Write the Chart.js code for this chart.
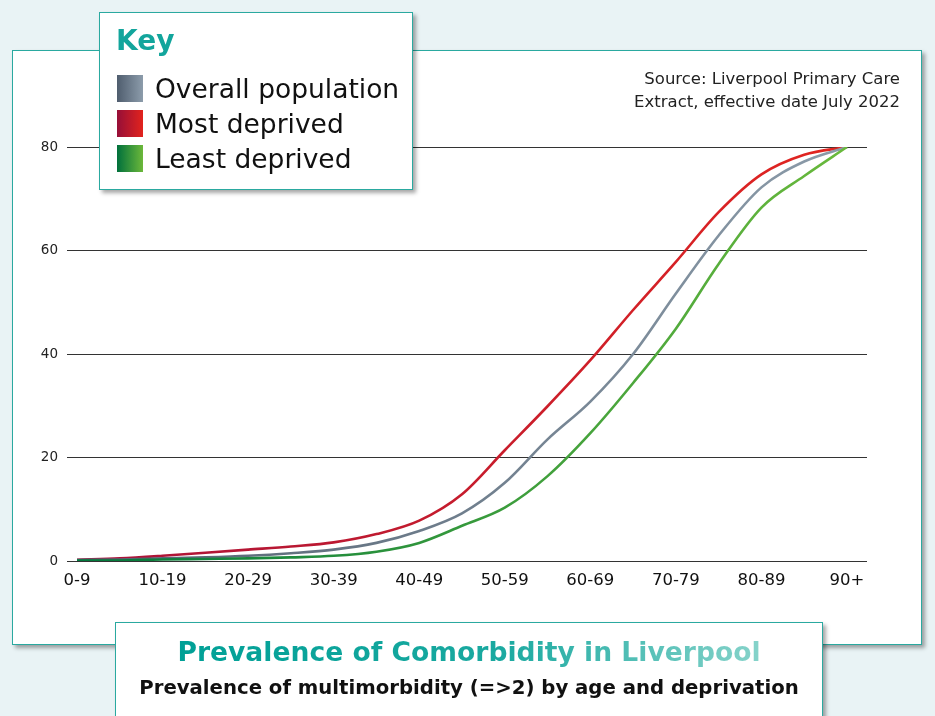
<!DOCTYPE html>
<html lang="en">
<head>
  <meta charset="UTF-8">
  <title>Prevalence of Comorbidity in Liverpool</title>
  <style>
    html, body { margin: 0; padding: 0; }
    body {
      width: 935px; height: 716px; overflow: hidden; position: relative;
      background: #e9f3f5;
      font-family: "DejaVu Sans", sans-serif;
    }
    #panel {
      position: absolute; left: 12px; top: 50px; width: 908px; height: 593px;
      background: #fff; border: 1.5px solid #2aa9a0;
      box-shadow: 3px 3px 4px rgba(0,0,0,0.35);
    }
    #chart { position: absolute; left: 0; top: 0; }
    #source {
      position: absolute; right: 35px; top: 67px; text-align: right;
      font-size: 16.5px; line-height: 23px; color: #222;
    }
    #key {
      position: absolute; left: 99px; top: 12px; width: 312px; height: 176px;
      background: #fff; border: 1.5px solid #2aa9a0;
      box-shadow: 3px 3px 4px rgba(0,0,0,0.35);
    }
    #key h2 {
      margin: 0; position: absolute; left: 16px; top: 11px;
      font-size: 28px; font-weight: bold; color: #12a59c; line-height: 34px;
    }
    .item { position: absolute; left: 17px; height: 30px; display: flex; align-items: center; }
    .item span.sw { width: 26px; height: 27px; display: inline-block; margin-right: 12px; }
    .item span.tx { font-size: 26.5px; color: #111; white-space: nowrap; }
    #titlebox {
      position: absolute; left: 115px; top: 622px; width: 706px; height: 110px;
      background: #fff; border: 1.5px solid #2aa9a0;
      box-shadow: 3px 3px 4px rgba(0,0,0,0.35);
      text-align: center;
    }
    #titlebox .t1 {
      margin-top: 12px; font-size: 26.6px; font-weight: bold; line-height: 34px;
      background: linear-gradient(90deg, #00a096 0%, #1aa9a0 55%, #86d3ca 100%);
      -webkit-background-clip: text; background-clip: text; color: transparent;
      display: inline-block;
    }
    #titlebox .t2 { font-size: 19.7px; font-weight: bold; color: #111; margin-top: 7px; }
  </style>
  <script src="https://cdn.jsdelivr.net/npm/chart.js"></script>
</head>
<body>
  <div id="panel"></div>
  <canvas id="chart" width="935" height="716"></canvas>
  <div id="source">Source: Liverpool Primary Care<br>Extract, effective date July 2022</div>
  <div id="key">
    <h2>Key</h2>
    <div class="item" style="top:60px"><span class="sw" style="background:linear-gradient(90deg,#4f5d6e,#8c9cab)"></span><span class="tx">Overall population</span></div>
    <div class="item" style="top:95px"><span class="sw" style="background:linear-gradient(90deg,#960f38,#e2231d)"></span><span class="tx">Most deprived</span></div>
    <div class="item" style="top:130px"><span class="sw" style="background:linear-gradient(90deg,#00703c,#6cb83a)"></span><span class="tx">Least deprived</span></div>
  </div>
  <div id="titlebox">
    <div class="t1">Prevalence of Comorbidity in Liverpool</div>
    <div class="t2">Prevalence of multimorbidity (=&gt;2) by age and deprivation</div>
  </div>
  <script>
    // age bands (tick labels) and positions every half band
    const ageBands = ['0-9', '10-19', '20-29', '30-39', '40-49', '50-59', '60-69', '70-79', '80-89', '90+'];
    const xPos = [0, 0.5, 1, 1.5, 2, 2.5, 3, 3.5, 4, 4.5, 5, 5.5, 6, 6.5, 7, 7.5, 8, 8.5, 9];

    const overall = [0.2, 0.3, 0.5, 0.7, 1.0, 1.5, 2.2, 3.5, 5.8, 9.2, 15.1, 23.5, 30.8, 40.0, 51.7, 62.9, 72.2, 77.2, 80];
    const mostDeprived = [0.25, 0.5, 1.0, 1.6, 2.2, 2.8, 3.6, 5.2, 7.8, 12.9, 21.4, 29.9, 38.8, 48.5, 57.8, 67.4, 74.7, 78.5, 80];
    const leastDeprived = [0.1, 0.1, 0.3, 0.4, 0.5, 0.7, 1.0, 1.8, 3.5, 6.8, 10.3, 16.4, 24.7, 34.4, 44.9, 57.4, 68.3, 74.4, 80];

    function grad(c0, c1) {
      return ctx => {
        const area = ctx.chart.chartArea;
        if (!area) return c1;
        const g = ctx.chart.ctx.createLinearGradient(area.left, 0, area.right, 0);
        g.addColorStop(0, c0);
        g.addColorStop(1, c1);
        return g;
      };
    }

    const pts = arr => arr.map((v, i) => ({ x: xPos[i], y: v }));

    new Chart(document.getElementById('chart'), {
      type: 'line',
      data: {
        datasets: [
          { label: 'Least deprived', data: pts(leastDeprived), borderColor: grad('#00773c', '#6cbb3c') },
          { label: 'Overall population', data: pts(overall), borderColor: grad('#52606f', '#8d9dab') },
          { label: 'Most deprived', data: pts(mostDeprived), borderColor: grad('#a8123a', '#e4261f') }
        ]
      },
      options: {
        responsive: false,
        animation: false,
        layout: { padding: { left: 27, right: 68, top: 147, bottom: 125 } },
        elements: {
          line: { borderWidth: 2.6, cubicInterpolationMode: 'monotone', fill: false },
          point: { radius: 0 }
        },
        plugins: { legend: { display: false }, tooltip: { enabled: false } },
        scales: {
          x: {
            type: 'linear', min: -0.117, max: 9.234,
            grid: { display: false },
            border: { display: false },
            afterBuildTicks: axis => { axis.ticks = ageBands.map((_, i) => ({ value: i })); },
            afterFit: axis => { axis.height = 30; },
            ticks: {
              padding: 2, color: '#111', maxRotation: 0, autoSkip: false,
              font: { family: 'DejaVu Sans', size: 16.5 },
              callback: v => ageBands[v]
            }
          },
          y: {
            min: 0, max: 80,
            border: { display: false },
            grid: { color: '#333', lineWidth: 1, drawTicks: false },
            afterFit: axis => { axis.width = 40; },
            ticks: {
              stepSize: 20, padding: 9, color: '#222',
              font: { family: 'DejaVu Sans', size: 13.5 }
            }
          }
        }
      }
    });
  </script>
</body>
</html>
